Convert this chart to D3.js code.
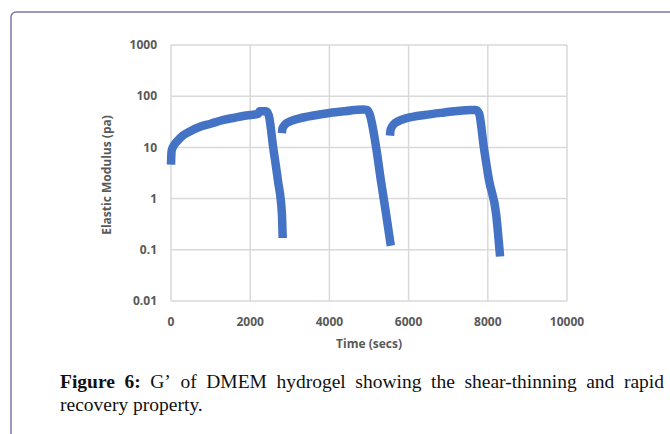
<!DOCTYPE html>
<html>
<head>
<meta charset="utf-8">
<script src="https://cdn.jsdelivr.net/npm/d3@7"></script>
<style>
  html, body { margin: 0; padding: 0; background: #fff; }
  svg { display: block; }
</style>
</head>
<body>
<svg id="chart" width="670" height="434"></svg>
<script>
// ---- data ----
const xTicks = [0, 2000, 4000, 6000, 8000, 10000];
const yTicks = [0.01, 0.1, 1, 10, 100, 1000];
const yTickLabels = ["0.01", "0.1", "1", "10", "100", "1000"];

// cycle 1 (time in secs, elastic modulus in pa)
const cycle1Time  = [0, 15, 60, 150, 300, 500, 750, 1000, 1300, 1600, 1900, 2200, 2240, 2400, 2470, 2580, 2700, 2800, 2820];
const cycle1Value = [4.6, 8.5, 10.5, 13, 17, 21, 25.5, 29, 34, 38, 42, 45, 51, 51, 42, 10, 2.26, 0.51, 0.17];
// cycle 2
const cycle2Time  = [2800, 2815, 2880, 3000, 3250, 3600, 4000, 4400, 4850, 4950, 5010, 5180, 5300, 5430, 5550];
const cycle2Value = [19, 23.5, 28, 32, 37, 42, 47, 51, 55, 54, 46, 10, 2.26, 0.51, 0.12];
// cycle 3
const cycle3Time  = [5530, 5545, 5620, 5760, 6000, 6400, 6900, 7550, 7700, 7780, 7900, 8030, 8210, 8310];
const cycle3Value = [17, 22, 28, 33, 38, 43, 48, 54, 54, 46, 10, 2.3, 0.5, 0.074];

const cycles = [
  {time: cycle1Time, value: cycle1Value},
  {time: cycle2Time, value: cycle2Value},
  {time: cycle3Time, value: cycle3Value}
];

const captionLine1 = [["Figure", true], ["6:", true], ["G’", false], ["of", false], ["DMEM", false],
  ["hydrogel", false], ["showing", false], ["the", false], ["shear-thinning", false], ["and", false], ["rapid", false]];
const captionLine2 = "recovery property.";

// ---- drawing ----
const svg = d3.select("#chart");
const x = d3.scaleLinear().domain([0, 10000]).range([171, 567]);
const y = d3.scaleLog().domain([0.01, 1000]).range([301, 45]);

// frame
svg.append("rect")
  .attr("x", 11).attr("y", 12).attr("width", 700).attr("height", 450)
  .attr("rx", 5).attr("fill", "none")
  .attr("stroke", "#7d78aa").attr("stroke-width", 1.5);

const grid = svg.append("g").attr("stroke", "#d9d9d9").attr("stroke-width", 1.5);
grid.selectAll("line.h").data(yTicks).join("line")
  .attr("x1", x(0)).attr("x2", x(10000))
  .attr("y1", d => y(d)).attr("y2", d => y(d));
grid.selectAll("line.v").data(xTicks).join("line")
  .attr("y1", y(0.01)).attr("y2", y(1000))
  .attr("x1", d => x(d)).attr("x2", d => x(d));

const font = "'Open Sans', 'Liberation Sans', sans-serif";
svg.append("g").selectAll("text").data(yTicks).join("text")
  .attr("x", 157).attr("y", d => y(d)).attr("dy", "0.35em")
  .attr("text-anchor", "end")
  .attr("font-family", font).attr("font-weight", "bold").attr("font-size", 12)
  .attr("fill", "#595959")
  .text((d, i) => yTickLabels[i]);

svg.append("g").selectAll("text").data(xTicks).join("text")
  .attr("x", d => x(d)).attr("y", 322).attr("dy", "0.35em")
  .attr("text-anchor", "middle")
  .attr("font-family", font).attr("font-weight", "bold").attr("font-size", 12)
  .attr("fill", "#595959")
  .text(d => d);

svg.append("text")
  .attr("x", 369).attr("y", 344).attr("dy", "0.35em")
  .attr("text-anchor", "middle")
  .attr("font-family", font).attr("font-weight", "bold").attr("font-size", 12)
  .attr("fill", "#595959")
  .text("Time (secs)");

svg.append("text")
  .attr("transform", "translate(107,175) rotate(-90)")
  .attr("dy", "0.35em")
  .attr("text-anchor", "middle")
  .attr("font-family", font).attr("font-weight", "bold").attr("font-size", 12)
  .attr("fill", "#595959")
  .text("Elastic Modulus (pa)");

const line = d3.line().x(d => x(d[0])).y(d => y(d[1])).curve(d3.curveMonotoneX);

svg.append("g").selectAll("path").data(cycles).join("path")
  .attr("d", c => line(c.time.map((t, i) => [t, c.value[i]])))
  .attr("fill", "none")
  .attr("stroke", "#4472c4")
  .attr("stroke-width", 8.5)
  .attr("stroke-linejoin", "round")
  .attr("stroke-linecap", "butt");

// caption (justified first line)
const serif = "'Liberation Serif', 'Times New Roman', serif";
const capSize = 19.5;
const cap = svg.append("g").attr("font-family", serif).attr("font-size", capSize).attr("fill", "#111");
const words = cap.selectAll("text.w").data(captionLine1).join("text")
  .attr("class", "w")
  .attr("y", 388)
  .attr("font-weight", d => d[1] ? "bold" : "normal")
  .text(d => d[0]);
const widths = [];
words.each(function() { widths.push(this.getComputedTextLength()); });
const left = 60, right = 664;
const total = d3.sum(widths);
const gap = (right - left - total) / (widths.length - 1);
let cx = left;
words.attr("x", (d, i) => { const p = cx; cx += widths[i] + gap; return p; });
cap.append("text").attr("x", left).attr("y", 411).text(captionLine2);
</script>
</body>
</html>
